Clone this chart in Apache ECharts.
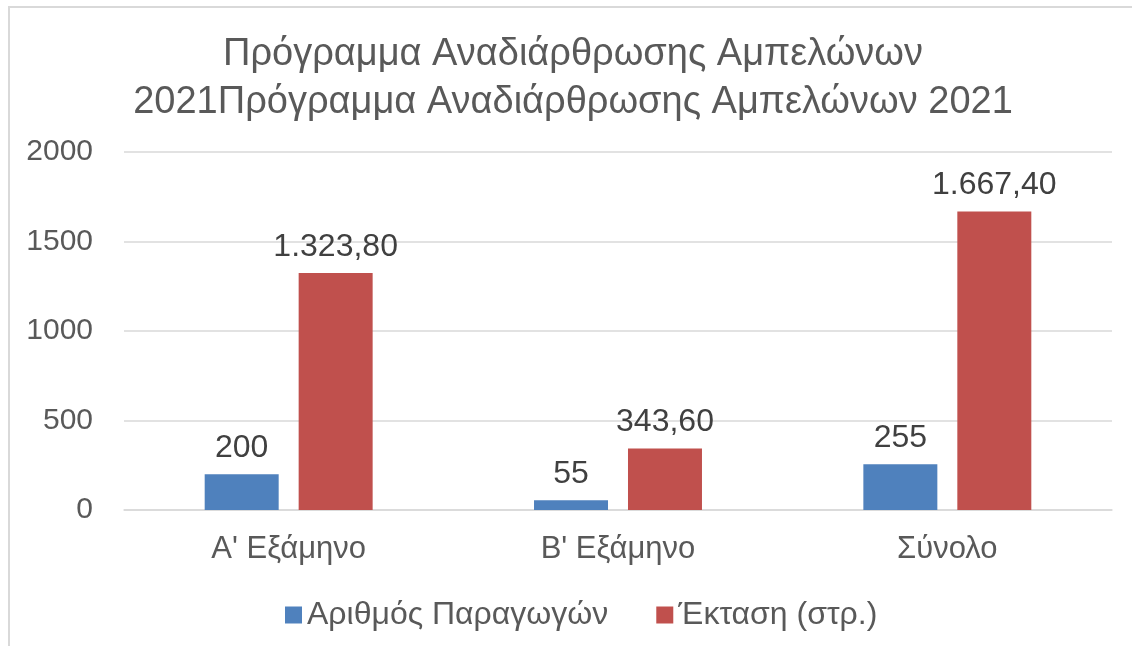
<!DOCTYPE html>
<html>
<head>
<meta charset="utf-8">
<script src="https://cdn.jsdelivr.net/npm/echarts@6/dist/echarts.min.js"></script>
<style>
  html, body { margin: 0; padding: 0; background: #fff; }
  #frame { position: absolute; left: 8px; top: 6px; width: 1124px; height: 640px;
           border-left: 2px solid #d9d9d9; border-top: 2px solid #d9d9d9; box-sizing: border-box; }
  #chart { position: absolute; left: 0; top: 0; width: 1132px; height: 646px; }
</style>
</head>
<body>
<div id="frame"></div>
<div id="chart"></div>
<script>
const categories = ["A' Εξάμηνο", "B' Εξάμηνο", 'Σύνολο']
const producers = [200, 55, 255]
const area = [1323.8, 343.6, 1667.4]
const yTicks = [0, 500, 1000, 1500, 2000]

const grFmt = v => v.toFixed(2).replace('.', ',').replace(/\B(?=(\d{3})+(?!\d))/g, '.')
const FONT = '"Liberation Sans", Arial, sans-serif'

const chart = echarts.init(document.getElementById('chart'))
chart.setOption({
  backgroundColor: 'transparent',
  animation: false,
  textStyle: { fontFamily: FONT },
  title: {
    text: 'Πρόγραμμα Αναδιάρθρωσης Αμπελώνων\n2021Πρόγραμμα Αναδιάρθρωσης Αμπελώνων 2021',
    left: 568, top: 26, textAlign: 'center',
    textStyle: { fontFamily: FONT, fontSize: 38, fontWeight: 'normal', color: '#595959', lineHeight: 48 },
  },
  legend: {
    top: 594, left: 280, itemGap: 48, itemWidth: 17, itemHeight: 17,
    icon: 'rect',
    textStyle: { fontFamily: FONT, fontSize: 32, color: '#595959' },
  },
  grid: { left: 124, right: 20, top: 152, bottom: 136, containLabel: false },
  xAxis: {
    type: 'category', data: categories,
    axisLine: { lineStyle: { color: '#d9d9d9', width: 1.5 } },
    axisTick: { show: false },
    axisLabel: { fontFamily: FONT, fontSize: 31, color: '#595959', margin: 24 },
  },
  yAxis: {
    type: 'value', min: yTicks[0], max: yTicks[yTicks.length - 1], interval: 500,
    axisLine: { show: false }, axisTick: { show: false },
    splitLine: { lineStyle: { color: '#d9d9d9', width: 1.5 } },
    axisLabel: { fontFamily: FONT, fontSize: 30, color: '#595959', margin: 31, formatter: v => String(v) },
  },
  series: [
    {
      name: 'Αριθμός Παραγωγών', type: 'bar', data: producers,
      barGap: '27%', barCategoryGap: '49%',
      itemStyle: { color: '#4f81bd' },
      label: { show: true, position: 'top', distance: 10, fontFamily: FONT, fontSize: 32, color: '#404040',
               formatter: p => String(p.value) },
    },
    {
      name: 'Έκταση (στρ.)', type: 'bar', data: area,
      itemStyle: { color: '#c0504d' },
      label: { show: true, position: 'top', distance: 10, fontFamily: FONT, fontSize: 32, color: '#404040',
               formatter: p => grFmt(p.value) },
    },
  ],
})
</script>
</body>
</html>
